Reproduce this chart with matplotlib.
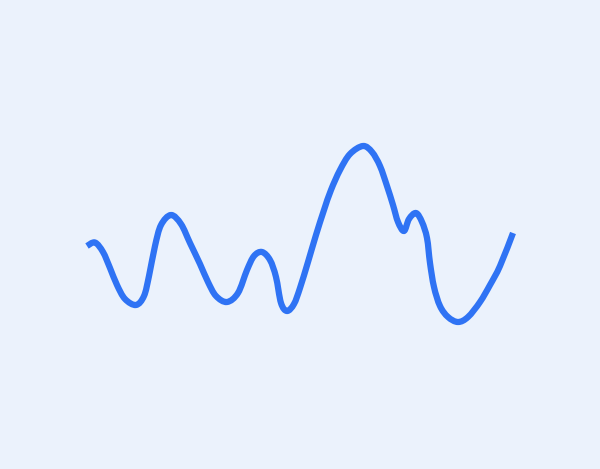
import matplotlib
matplotlib.use("Agg")
import matplotlib.pyplot as plt
import numpy as np
from matplotlib.path import Path
from matplotlib.patches import PathPatch

# curve (pixel coordinates, y grows downward)
xs = [87, 95, 103, 110, 117, 125, 136, 144, 149, 155, 161, 171, 181, 190,
      200, 208, 216, 227, 238, 247, 254, 262, 270, 276, 281, 287, 294, 300,
      308, 316, 324, 331, 340, 350, 363, 372, 380, 387, 393, 398, 404, 409,
      416, 422, 427, 430, 434, 440, 448, 458, 468, 480, 490, 500, 513]
ys = [246, 242.5, 252, 268, 285, 299, 305, 296, 276, 246, 225, 215, 224, 243,
      264, 282, 296, 302, 293, 270, 256, 252, 260, 277, 303, 311, 304, 288,
      262, 235, 210, 190, 170, 154, 146, 152, 166, 186, 205, 222, 231, 219,
      213, 222, 238, 263, 287, 306, 317, 322, 317, 302, 285, 266, 233]

bg = "#ebf2fc"
line_color = "#2f73f4"


def smooth_path(x, y):
    # catmull-rom knots turned into cubic bezier segments
    pts = np.column_stack([x, y]).astype(float)
    ext = np.vstack([pts[0], pts, pts[-1]])
    verts = [pts[0]]
    codes = [Path.MOVETO]
    for i in range(1, len(ext) - 2):
        p0, p1, p2, p3 = ext[i - 1], ext[i], ext[i + 1], ext[i + 2]
        verts += [p1 + (p2 - p0) / 6, p2 - (p3 - p1) / 6, p2]
        codes += [Path.CURVE4] * 3
    return Path(verts, codes)


fig = plt.figure(figsize=(6, 4.69), dpi=100)
fig.patch.set_facecolor(bg)
ax = fig.add_axes([0, 0, 1, 1])
ax.set_facecolor(bg)
ax.set_xlim(0, 600)
ax.set_ylim(469, 0)
ax.axis("off")

patch = PathPatch(smooth_path(xs, ys), facecolor="none", edgecolor=line_color,
                  linewidth=4.5, capstyle="butt", joinstyle="round")
ax.add_patch(patch)

fig.savefig("out.png", dpi=100, facecolor=bg)
